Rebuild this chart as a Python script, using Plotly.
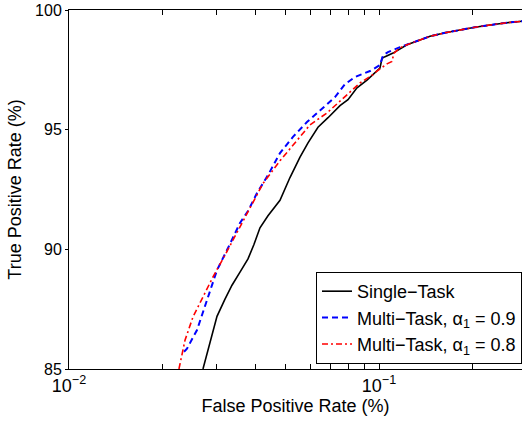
import plotly.graph_objects as go

# Shared upper part of all curves (FPR %, TPR %)
common_fpr = [0.1231, 0.1356, 0.1461, 0.1633, 0.1825, 0.2040, 0.2280, 0.2549, 0.2892, 0.32]
common_tpr = [98.55, 98.75, 98.90, 99.05, 99.17, 99.28, 99.37, 99.46, 99.53, 99.58]

single_fpr = [0.02705, 0.02849, 0.03002, 0.03180, 0.03356, 0.03561, 0.03779, 0.03950, 0.04131,
              0.04384, 0.04793, 0.05162, 0.05561, 0.05902, 0.06356, 0.06848, 0.07484, 0.07943,
              0.08243, 0.08492, 0.09147, 0.09852, 0.1007, 0.1023, 0.1046, 0.1110]
single_tpr = [85.0, 86.1, 87.2, 87.9, 88.5, 89.05, 89.6, 90.2, 90.9,
              91.4, 92.05, 93.0, 93.85, 94.45, 95.1, 95.5, 96.0, 96.25,
              96.55, 96.75, 97.07, 97.45, 97.57, 97.98, 98.05, 98.2]

mt09_fpr = [0.02350, 0.02402, 0.02588, 0.02788, 0.03002, 0.03234, 0.03561, 0.03779, 0.04041,
            0.04384, 0.04793, 0.05278, 0.05857, 0.06452, 0.07212, 0.07768, 0.08367, 0.09354,
            0.1007, 0.1030, 0.1069, 0.1169]
mt09_tpr = [85.72, 85.85, 86.63, 87.88, 89.13, 89.97, 91.1, 91.6, 92.35,
            93.1, 94.02, 94.7, 95.32, 95.8, 96.36, 96.9, 97.2, 97.45,
            97.7, 98.1, 98.24, 98.45]

mt08_fpr = [0.02263, 0.02367, 0.02512, 0.02705, 0.02914, 0.03186, 0.03751, 0.04224, 0.04793,
            0.05358, 0.05989, 0.06797, 0.07653, 0.08684, 0.09563, 0.09852, 0.1061, 0.1101,
            0.1118, 0.1169]
mt08_tpr = [85.0, 86.2, 87.18, 88.0, 88.85, 89.76, 91.5, 92.75, 93.7,
            94.45, 95.2, 95.7, 96.3, 96.95, 97.3, 97.45, 97.75, 97.85,
            98.2, 98.42]

x_tickvals = [0.01, 0.02, 0.03, 0.04, 0.05, 0.06, 0.07, 0.08, 0.09, 0.1, 0.2, 0.3]
x_ticktext = ["10<sup>−2</sup>", "", "", "", "", "", "", "", "", "10<sup>−1</sup>", "", ""]
y_tickvals = [85, 90, 95, 100]

font = "Arial"

fig = go.Figure()
fig.add_trace(go.Scatter(x=single_fpr + common_fpr, y=single_tpr + common_tpr, mode="lines",
                         name="Single−Task", line=dict(color="black", width=1.6)))
fig.add_trace(go.Scatter(x=mt09_fpr + common_fpr, y=mt09_tpr + common_tpr, mode="lines",
                         name="Multi−Task, α<sub>1</sub> = 0.9",
                         line=dict(color="#0000ff", width=2, dash="6px,4px")))
fig.add_trace(go.Scatter(x=mt08_fpr + common_fpr, y=mt08_tpr + common_tpr, mode="lines",
                         name="Multi−Task, α<sub>1</sub> = 0.8",
                         line=dict(color="#ff0000", width=1.6, dash="6px,3px,2px,3px")))

fig.update_layout(
    width=522, height=424,
    margin=dict(l=69, r=0, t=10, b=55),
    paper_bgcolor="white", plot_bgcolor="white",
    font=dict(family=font, size=17, color="black"),
    showlegend=True,
    legend=dict(x=1, y=0.014, xanchor="right", yanchor="bottom",
                bordercolor="black", borderwidth=1, bgcolor="white",
                font=dict(size=18), tracegroupgap=0, itemwidth=30),
    xaxis=dict(type="log", range=[-2, -0.5387], showgrid=False, zeroline=False,
               showline=True, linecolor="black", linewidth=1, mirror="ticks",
               ticks="inside", ticklen=5, tickcolor="black",
               tickvals=x_tickvals, ticktext=x_ticktext, tickfont=dict(size=18),
               title=dict(text="False Positive Rate (%)", font=dict(size=18), standoff=2)),
    yaxis=dict(range=[85, 100], showgrid=False, zeroline=False,
               showline=True, linecolor="black", linewidth=1, mirror=False,
               ticks="outside", ticklen=3, tickcolor="black",
               tickvals=y_tickvals, tickfont=dict(size=16),
               title=dict(text="True Positive Rate (%)", font=dict(size=18), standoff=8)),
)

fig.write_html("out.html")
